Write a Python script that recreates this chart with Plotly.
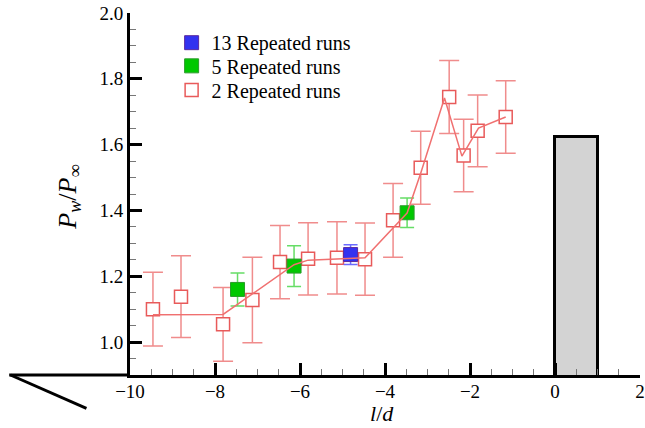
import plotly.graph_objects as go

# ---- data ----
red_x = [-9.46, -8.80, -7.81, -7.12, -6.47, -5.81, -5.13, -4.47, -3.81, -3.16, -2.49, -2.15, -1.82, -1.16]
red_y = [1.100, 1.138, 1.054, 1.128, 1.243, 1.253, 1.256, 1.252, 1.370, 1.530, 1.745, 1.567, 1.642, 1.684]
red_err = [0.112, 0.124, 0.112, 0.130, 0.111, 0.110, 0.110, 0.110, 0.112, 0.111, 0.111, 0.110, 0.109, 0.110]

green_x = [-7.47, -6.14, -3.48]
green_y = [1.160, 1.231, 1.393]
green_err = [0.050, 0.062, 0.045]

blue_x = [-4.81]
blue_y = [1.266]
blue_err = [0.030]

fit_x = [-9.46, -7.81, -6.14, -5.81, -4.47, -3.48, -3.16, -2.60, -2.19, -1.80, -1.16]
fit_y = [1.083, 1.084, 1.235, 1.249, 1.256, 1.392, 1.513, 1.742, 1.565, 1.650, 1.684]

block_x = [0.5]
block_w = [1.0]
block_h = [1.624]

FONT = "Liberation Serif"

fig = go.Figure()

fig.add_trace(go.Bar(x=block_x, y=block_h, width=block_w, showlegend=False,
                     marker=dict(color="#d3d3d3", line=dict(color="black", width=3))))

fig.add_trace(go.Scatter(x=red_x, y=red_y, mode="markers", name="2 Repeated runs", legend="legend3",
                         error_y=dict(type="data", array=red_err, color="#f08c8c", thickness=1.5, width=10),
                         marker=dict(symbol="square", size=13, color="white",
                                     line=dict(color="#e85a5a", width=1.5))))
fig.add_trace(go.Scatter(x=green_x, y=green_y, mode="markers", name="5 Repeated runs", legend="legend2",
                         error_y=dict(type="data", array=green_err, color="#66dd66", thickness=1.5, width=7),
                         marker=dict(symbol="square", size=14, color="#00c800",
                                     line=dict(color="#2a9a2a", width=1))))
fig.add_trace(go.Scatter(x=blue_x, y=blue_y, mode="markers", name="13 Repeated runs", legend="legend",
                         error_y=dict(type="data", array=blue_err, color="#6b6bff", thickness=1.5, width=7),
                         marker=dict(symbol="square", size=14, color="#3232f0",
                                     line=dict(color="#5a2aa0", width=1))))
fig.add_trace(go.Scatter(x=fit_x, y=fit_y, mode="lines", showlegend=False,
                         line=dict(color="#f07070", width=1.5)))

axis_common = dict(showline=True, linewidth=3, linecolor="black", showgrid=False, zeroline=False,
                   ticks="inside", ticklen=12, tickwidth=3, tickcolor="black",
                   tickfont=dict(family=FONT, size=19, color="black"))

fig.update_xaxes(range=[-10, 2], tick0=0, dtick=2, ticklabeloverflow="allow", ticklabelstandoff=-3,
                 minor=dict(dtick=0.5, ticks="inside", ticklen=6, tickwidth=1, tickcolor="#777"),
                 **axis_common)
fig.update_yaxes(range=[0.9, 2.0], tick0=0, dtick=0.2, tickformat=".1f",
                 minor=dict(dtick=0.05, ticks="inside", ticklen=6, tickwidth=1, tickcolor="#777"),
                 **axis_common)

leg_common = dict(x=0.0816, xanchor="left", yanchor="middle", bgcolor="rgba(0,0,0,0)",
                  font=dict(family=FONT, size=20, color="black"))

fig.update_layout(
    width=645, height=428,
    margin=dict(l=130, r=0, t=13, b=53),
    plot_bgcolor="white", paper_bgcolor="white",
    bargap=0,
    legend=dict(y=0.918, **leg_common),
    legend2=dict(y=0.854, **leg_common),
    legend3=dict(y=0.787, **leg_common),
    shapes=[
        dict(type="line", xref="paper", yref="paper", x0=-0.2369, x1=0, y0=0, y1=0,
             line=dict(color="black", width=3)),
        dict(type="line", xref="paper", yref="paper", x0=-0.2344, y0=0, x1=-0.0854, y1=-0.092,
             line=dict(color="black", width=3)),
    ],
    annotations=[
        dict(xref="paper", yref="paper", x=-0.120, y=0.492, xanchor="center", yanchor="middle",
             textangle=-90, showarrow=False,
             text="<i>P</i><sub><i>w</i></sub>/<i>P</i><sub>∞</sub>",
             font=dict(family=FONT, size=26, color="black")),
        dict(xref="paper", yref="paper", x=0.495, y=-0.1064, xanchor="center", yanchor="middle",
             showarrow=False,
             text="<i>l</i>/<i>d</i>",
             font=dict(family=FONT, size=22, color="black")),
    ],
)

fig.write_html("out.html")
